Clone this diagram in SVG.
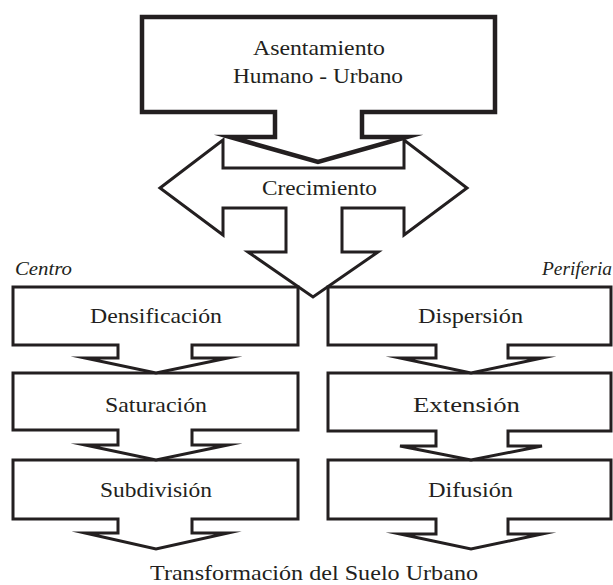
<svg xmlns="http://www.w3.org/2000/svg" width="613" height="585" viewBox="0 0 613 585">
<style>
.shape{fill:#fff;stroke:#231f20;stroke-width:3;stroke-linejoin:miter;stroke-miterlimit:10}
.thick{stroke-width:4.5}
.lbl{font-family:"Liberation Serif","Times New Roman",serif;font-size:21px;fill:#231f20;text-anchor:middle}
.side{font-family:"Liberation Serif","Times New Roman",serif;font-size:18px;font-style:italic;fill:#231f20}
</style>
<rect width="613" height="585" fill="#fff"/>
<g id="connectors"></g>
<g id="crecimiento">
<polygon class="shape" points="160,188 223,140 223,168 404,168 404,140 467,188 404,235 404,208 342,208 342,252 378,252 313,297 248,252 286,252 286,208 223,208 223,235"/>
<text class="lbl" x="319.5" y="195" textLength="115" lengthAdjust="spacingAndGlyphs">Crecimiento</text>
</g>
<g id="asentamiento">
<polygon class="shape thick" points="142,17 495,17 495,112 362,112 362,137 407,137 318,162 230,137 275,137 275,112 142,112"/>
<text class="lbl" x="319" y="55" textLength="132" lengthAdjust="spacingAndGlyphs">Asentamiento</text>
<text class="lbl" x="318" y="83" textLength="170" lengthAdjust="spacingAndGlyphs">Humano - Urbano</text>
</g>
<g id="centro-label"><text class="side" x="15" y="275" textLength="57" lengthAdjust="spacingAndGlyphs">Centro</text></g>
<g id="periferia-label"><text class="side" x="542" y="275" textLength="70" lengthAdjust="spacingAndGlyphs">Periferia</text></g>
<g id="subdivision">
<polygon class="shape" points="13,460 298,460 298,519 192,519 192,533 228,533 156,549 85,533 118,533 118,519 13,519"/>
<text class="lbl" x="156" y="497" textLength="112" lengthAdjust="spacingAndGlyphs">Subdivisión</text>
</g>
<g id="saturacion">
<polygon class="shape" points="13,373 298,373 298,430 192,430 192,445 228,445 156,460 85,445 118,445 118,430 13,430"/>
<text class="lbl" x="156" y="412" textLength="102" lengthAdjust="spacingAndGlyphs">Saturación</text>
</g>
<g id="densificacion">
<polygon class="shape" points="13,287 298,287 298,345 192,345 192,358 228,358 156,373 85,358 118,358 118,345 13,345"/>
<text class="lbl" x="156" y="323" textLength="132" lengthAdjust="spacingAndGlyphs">Densificación</text>
</g>
<g id="difusion">
<polygon class="shape" points="328,460 611,460 611,519 508,519 508,534 542,534 471,549 400,534 436,534 436,519 328,519"/>
<text class="lbl" x="470.5" y="497" textLength="85" lengthAdjust="spacingAndGlyphs">Difusión</text>
</g>
<g id="extension">
<polygon class="shape" points="328,373 611,373 611,431 508,431 508,446 542,446 471,460 400,446 436,446 436,431 328,431"/>
<text class="lbl" x="466.5" y="412" textLength="107" lengthAdjust="spacingAndGlyphs">Extensión</text>
</g>
<g id="dispersion">
<polygon class="shape" points="328,287 611,287 611,345 508,345 508,358 542,358 471,373 400,358 436,358 436,345 328,345"/>
<text class="lbl" x="470.5" y="323" textLength="105" lengthAdjust="spacingAndGlyphs">Dispersión</text>
</g>
<g id="transformacion">
<text class="lbl" x="314" y="580" textLength="328" lengthAdjust="spacingAndGlyphs">Transformación del Suelo Urbano</text>
</g>
</svg>
